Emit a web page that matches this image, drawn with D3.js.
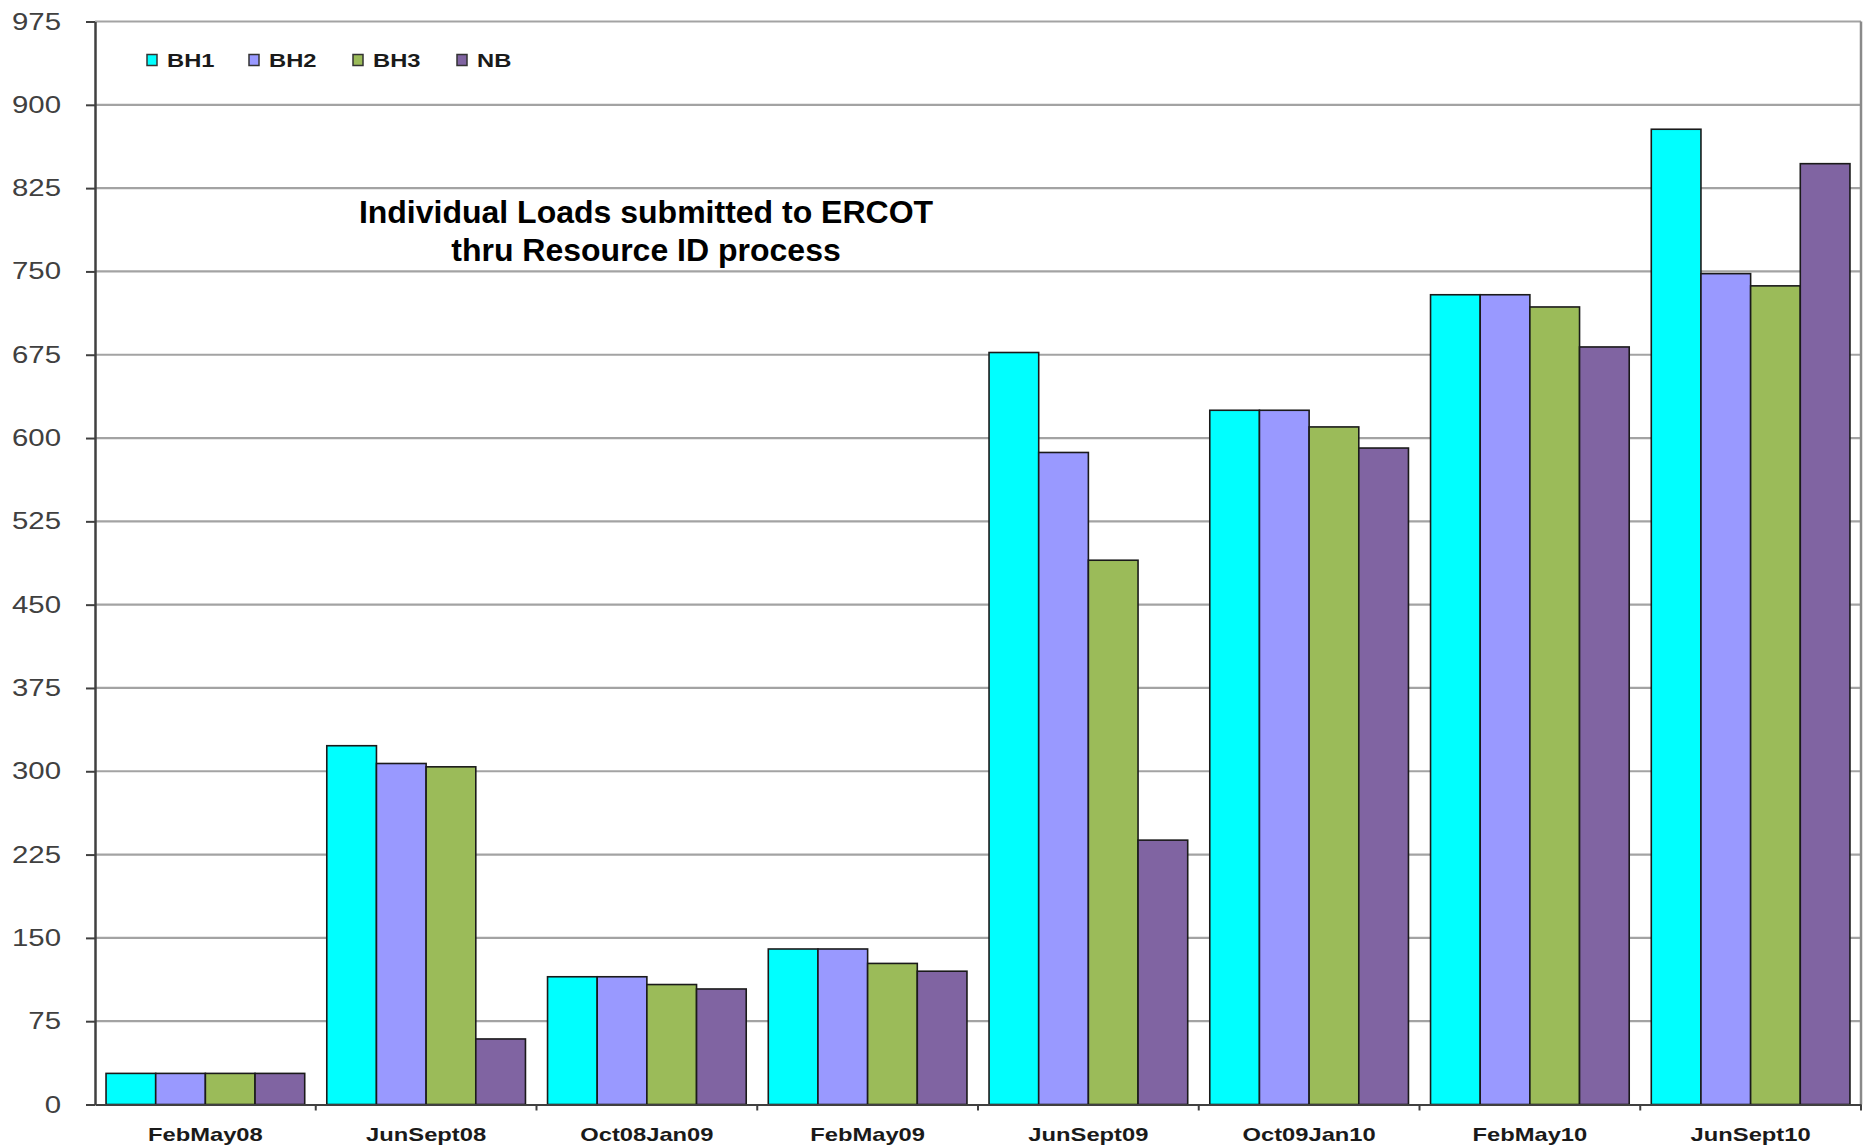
<!DOCTYPE html>
<meta charset="utf-8">
<head>
    <script src="https://d3js.org/d3.v7.min.js"></script>
</head>
<body style="margin:0; background:#fff;">
    <div id="svg_div"></div>
</body>
<script>

    // data
    var periods = ["FebMay08", "JunSept08", "Oct08Jan09", "FebMay09", "JunSept09", "Oct09Jan10", "FebMay10", "JunSept10"];
    var series_names = ["BH1", "BH2", "BH3", "NB"];
    var bh1 = [28, 323, 115, 140, 677, 625, 729, 878];
    var bh2 = [28, 307, 115, 140, 587, 625, 729, 748];
    var bh3 = [28, 304, 108, 127, 490, 610, 718, 737];
    var nb  = [28, 59, 104, 120, 238, 591, 682, 847];
    var y_ticks = [0, 75, 150, 225, 300, 375, 450, 525, 600, 675, 750, 825, 900, 975];
    var title_lines = ["Individual Loads submitted to ERCOT", "thru Resource ID process"];

    var series_values = [bh1, bh2, bh3, nb];
    var bar_colors = ["#00FFFF", "#9999FF", "#9BBB59", "#8064A2"];

    // the original picture is stretched sideways, so the axis texts are too
    var stretch = 1.25;

    function draw_chart() {
        let width = 1864, height = 1148;
        let left = 95, right = 1861, top = 21.5, bottom = 1104.5;

        let svg = d3.select("#svg_div").append("svg")
            .attr("width", width)
            .attr("height", height);

        let x = d3.scaleBand()
            .domain(periods)
            .range([left, right])
            .paddingInner(0.1)
            .paddingOuter(0.05);

        let x_inner = d3.scaleBand()
            .domain(series_names)
            .range([0, x.bandwidth()]);

        let y = d3.scaleLinear()
            .domain([0, 975])
            .range([bottom, top]);

        // gridlines
        svg.append("g")
            .selectAll("line")
            .data(y_ticks.filter(d => d > 0))
            .enter().append("line")
            .attr("x1", left).attr("x2", right)
            .attr("y1", d => y(d)).attr("y2", d => y(d))
            .attr("stroke", "#a3a3a3")
            .attr("stroke-width", 2.2);

        // right border
        svg.append("line")
            .attr("x1", right).attr("x2", right)
            .attr("y1", top).attr("y2", bottom)
            .attr("stroke", "#8a8a8a")
            .attr("stroke-width", 2.5);

        // bars
        let rows = periods.map((p, i) => ({ period: p, vals: series_names.map((s, j) => ({ key: s, idx: j, value: series_values[j][i] })) }));

        svg.append("g")
            .selectAll("g")
            .data(rows)
            .enter().append("g")
            .attr("transform", d => "translate(" + x(d.period) + ",0)")
            .selectAll("rect")
            .data(d => d.vals)
            .enter().append("rect")
            .attr("x", d => x_inner(d.key))
            .attr("y", d => y(d.value))
            .attr("width", x_inner.bandwidth())
            .attr("height", d => y(0) - y(d.value))
            .attr("fill", d => bar_colors[d.idx])
            .attr("stroke", "#1a1a1a")
            .attr("stroke-width", 1.6);

        // y axis
        let y_axis = svg.append("g")
            .attr("transform", "translate(" + left + ",0)")
            .call(d3.axisLeft(y).tickValues(y_ticks).tickSize(9).tickPadding(25).tickSizeOuter(0));
        y_axis.select(".domain").attr("stroke", "#404040").attr("stroke-width", 2.5);
        y_axis.selectAll(".tick line").attr("stroke", "#404040").attr("stroke-width", 2);
        y_axis.selectAll(".tick text")
            .attr("transform", "scale(" + stretch + ",1)")
            .attr("x", -34 / stretch)
            .attr("fill", "#404040")
            .style("font-family", "'Liberation Sans', Arial, sans-serif")
            .style("font-size", "23.5px");

        // x axis
        let x_axis = svg.append("g")
            .attr("transform", "translate(0," + bottom + ")")
            .call(d3.axisBottom(x).tickSize(0).tickPadding(20).tickSizeOuter(0));
        x_axis.select(".domain").attr("stroke", "#404040").attr("stroke-width", 2.2);
        x_axis.selectAll(".tick text")
            .attr("transform", "scale(" + stretch + ",1)")
            .attr("y", 23)
            .attr("fill", "#1a1a1a")
            .style("font-family", "'Liberation Sans', Arial, sans-serif")
            .style("font-weight", "bold")
            .style("font-size", "19px");

        // category boundary ticks
        let step = x.step();
        svg.append("g")
            .selectAll("line")
            .data(periods)
            .enter().append("line")
            .attr("x1", d => x(d) + x.bandwidth() + (step - x.bandwidth()) / 2)
            .attr("x2", d => x(d) + x.bandwidth() + (step - x.bandwidth()) / 2)
            .attr("y1", bottom).attr("y2", bottom + 6)
            .attr("stroke", "#404040")
            .attr("stroke-width", 2);

        // legend
        let legend = svg.append("g")
            .selectAll("g")
            .data(series_names)
            .enter().append("g")
            .attr("transform", (d, i) => "translate(" + [147, 249, 353, 457][i] + ",54.5)");
        legend.append("rect")
            .attr("width", 10).attr("height", 11)
            .attr("fill", (d, i) => bar_colors[i])
            .attr("stroke", "#333")
            .attr("stroke-width", 1.5);
        legend.append("text")
            .attr("transform", "scale(" + stretch + ",1)")
            .attr("x", 20 / stretch).attr("y", 12.5)
            .text(d => d)
            .attr("fill", "#1a1a1a")
            .style("font-family", "'Liberation Sans', Arial, sans-serif")
            .style("font-weight", "bold")
            .style("font-size", "19px");

        // title
        svg.append("text")
            .attr("x", 646)
            .attr("y", 223)
            .attr("text-anchor", "middle")
            .style("font-family", "'Liberation Sans', Arial, sans-serif")
            .style("font-weight", "bold")
            .style("font-size", "32px")
            .attr("fill", "#000")
            .selectAll("tspan")
            .data(title_lines)
            .enter().append("tspan")
            .attr("x", 646)
            .attr("dy", (d, i) => i === 0 ? 0 : 38)
            .text(d => d);
    }

    draw_chart();

</script>
